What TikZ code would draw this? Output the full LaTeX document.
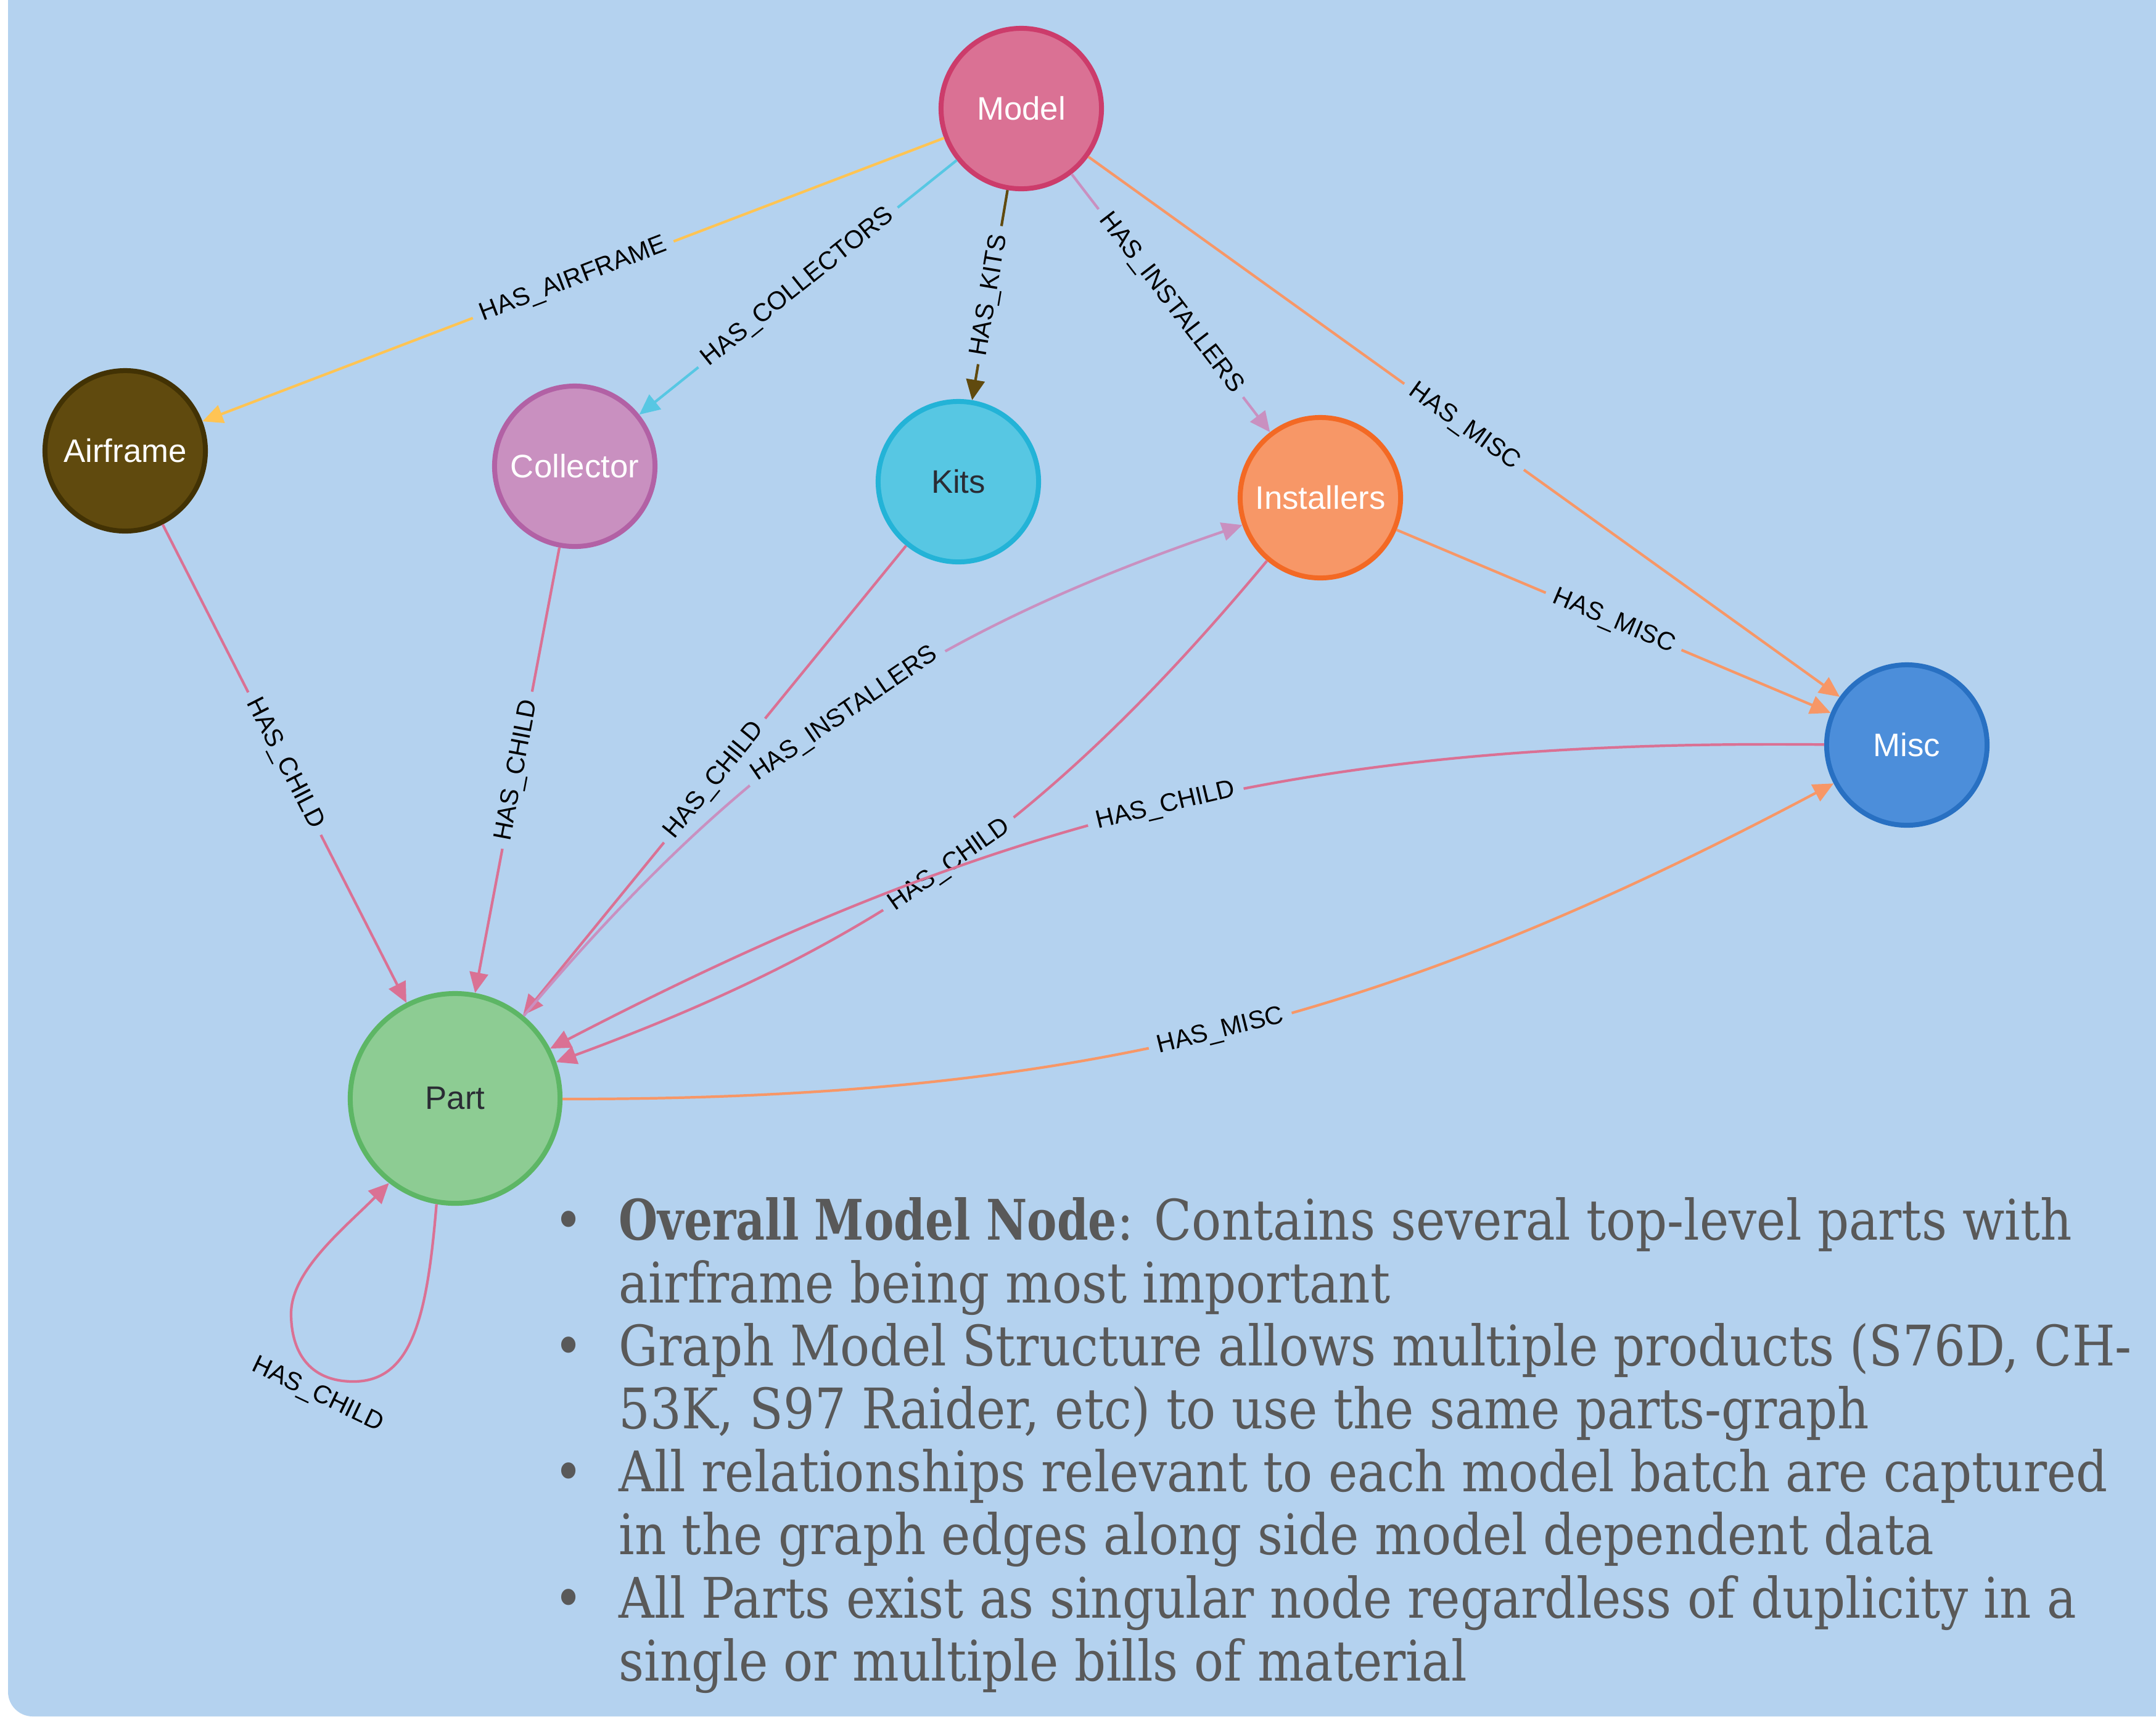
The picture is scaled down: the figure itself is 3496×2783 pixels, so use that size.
\documentclass[tikz,border=0pt]{standalone}
\usepackage{fontspec}
\setmainfont{DejaVu Serif}
\newfontfamily\nodefont{Liberation Sans}
\newfontfamily\bodyfont[FakeStretch=0.88, BoldFeatures={FakeStretch=0.80}]{DejaVu Serif}
\usetikzlibrary{arrows.meta}
\definecolor{bg}{HTML}{B4D2EF}
\definecolor{txt}{HTML}{595959}
\definecolor{dark}{HTML}{2A2C34}
\definecolor{cModelF}{HTML}{DA7194}\definecolor{cModelB}{HTML}{CC3C6B}
\definecolor{cAirF}{HTML}{604A0E}\definecolor{cAirB}{HTML}{423204}
\definecolor{cColF}{HTML}{C990C0}\definecolor{cColB}{HTML}{B261A5}
\definecolor{cKitsF}{HTML}{57C7E3}\definecolor{cKitsB}{HTML}{23B3D7}
\definecolor{cInstF}{HTML}{F79767}\definecolor{cInstB}{HTML}{F36924}
\definecolor{cMiscF}{HTML}{4C8EDA}\definecolor{cMiscB}{HTML}{2870C2}
\definecolor{cPartF}{HTML}{8DCC93}\definecolor{cPartB}{HTML}{5DB665}
\definecolor{eAir}{HTML}{FFC454}
\definecolor{eCol}{HTML}{57C7E3}
\definecolor{eKits}{HTML}{604A0E}
\definecolor{eInst}{HTML}{C990C0}
\definecolor{eMisc}{HTML}{F79767}
\definecolor{eChild}{HTML}{DA7194}
\begin{document}
\begin{tikzpicture}[x=0.01cm,y=0.01cm,
  gnode/.style={circle, minimum size=2.6cm, line width=0.08cm, inner sep=0pt,
    font=\nodefont\fontsize{15}{18}\selectfont},
  bignode/.style={gnode, minimum size=3.4cm},
  rel/.style={line width=1.2pt, -{Triangle[length=0.33cm,width=0.30cm]}},
  elabel/.style={font=\nodefont\fontsize{11.7}{13}\selectfont, text=black,
    fill=bg, inner xsep=4pt, inner ysep=1pt, sloped, midway},
  loopl/.style={font=\nodefont\fontsize{11.7}{13}\selectfont, text=black, inner sep=1pt},
  bodyline/.style={anchor=base west, inner sep=0pt, text=txt,
    font=\bodyfont\fontsize{25.8}{29}\selectfont},
  bul/.style={anchor=base, inner sep=0pt, text=txt,
    font=\bodyfont\fontsize{25.8}{29}\selectfont}]
\useasboundingbox (0,0) rectangle (3496,-2783);
\fill[white] (0,0) rectangle (3496,-2783);
\fill[bg] (13,0) -- (13,-2743) arc[start angle=180, end angle=270, radius=40]
  -- (3496,-2783) -- (3496,0) -- cycle;

% nodes
\node[gnode, fill=cModelF, draw=cModelB, text=white] (Model) at (1656,-176) {Model};
\node[gnode, fill=cAirF, draw=cAirB, text=white] (Airframe) at (203,-731) {Airframe};
\node[gnode, fill=cColF, draw=cColB, text=white] (Collector) at (932,-756) {Collector};
\node[gnode, fill=cKitsF, draw=cKitsB, text=dark] (Kits) at (1554,-781) {Kits};
\node[gnode, fill=cInstF, draw=cInstB, text=white] (Installers) at (2141,-807) {Installers};
\node[gnode, fill=cMiscF, draw=cMiscB, text=white] (Misc) at (3092,-1208) {Misc};
\node[bignode, fill=cPartF, draw=cPartB, text=dark] (Part) at (738,-1781) {Part};

% relationships
\draw[rel, eAir] (Model) -- node[elabel]{HAS\_AIRFRAME} (Airframe);
\draw[rel, eCol] (Model) -- node[elabel]{HAS\_COLLECTORS} (Collector);
\draw[rel, eKits] (Model) -- node[elabel]{HAS\_KITS} (Kits);
\draw[rel, eInst] (Model) -- node[elabel]{HAS\_INSTALLERS} (Installers);
\draw[rel, eMisc] (Model) -- node[elabel]{HAS\_MISC} (Misc);
\draw[rel, eMisc] (Installers) -- node[elabel]{HAS\_MISC} (Misc);
\draw[rel, eChild] (Airframe) -- node[elabel]{HAS\_CHILD} (Part);
\draw[rel, eChild] (Collector) -- node[elabel]{HAS\_CHILD} (Part);
\draw[rel, eChild] (Kits) -- node[elabel]{HAS\_CHILD} (Part);
\draw[rel, eInst] (Part) to[bend left=15.5] node[elabel]{HAS\_INSTALLERS} (Installers);
\draw[rel, eChild] (Installers) to[bend left=15] node[elabel]{HAS\_CHILD} (Part);
\draw[rel, eChild] (Misc) to[bend right=14] node[elabel]{HAS\_CHILD} (Part);
\draw[rel, eMisc] (Part) to[bend right=14] node[elabel]{HAS\_MISC} (Misc);
\draw[rel, eChild] (Part.-100) .. controls (693,-2130) and (670,-2240) .. (573,-2240)
  .. controls (500,-2240) and (472,-2190) .. (472,-2130)
  .. controls (472,-2060) and (560,-1990) .. (Part.-128);
\node[loopl, rotate=-25.5] (looplabel) at (515,-2262) {HAS\_CHILD};

% bullet text
\node[bul] (b1) at (922,-2010) {•};
\node[bodyline] (l1) at (1003,-2010) {\textbf{Overall Model Node}: Contains several top-level parts with};
\node[bodyline] (l2) at (1003,-2112) {airframe being most important};
\node[bul] (b2) at (922,-2214) {•};
\node[bodyline] (l3) at (1003,-2214) {Graph Model Structure allows multiple products (S76D, CH-};
\node[bodyline] (l4) at (1003,-2316) {53K, S97 Raider, etc) to use the same parts-graph};
\node[bul] (b3) at (922,-2418) {•};
\node[bodyline] (l5) at (1003,-2418) {All relationships relevant to each model batch are captured};
\node[bodyline] (l6) at (1003,-2520) {in the graph edges along side model dependent data};
\node[bul] (b4) at (922,-2623) {•};
\node[bodyline] (l7) at (1003,-2623) {All Parts exist as singular node regardless of duplicity in a};
\node[bodyline] (l8) at (1003,-2725) {single or multiple bills of material};
\end{tikzpicture}
\end{document}
